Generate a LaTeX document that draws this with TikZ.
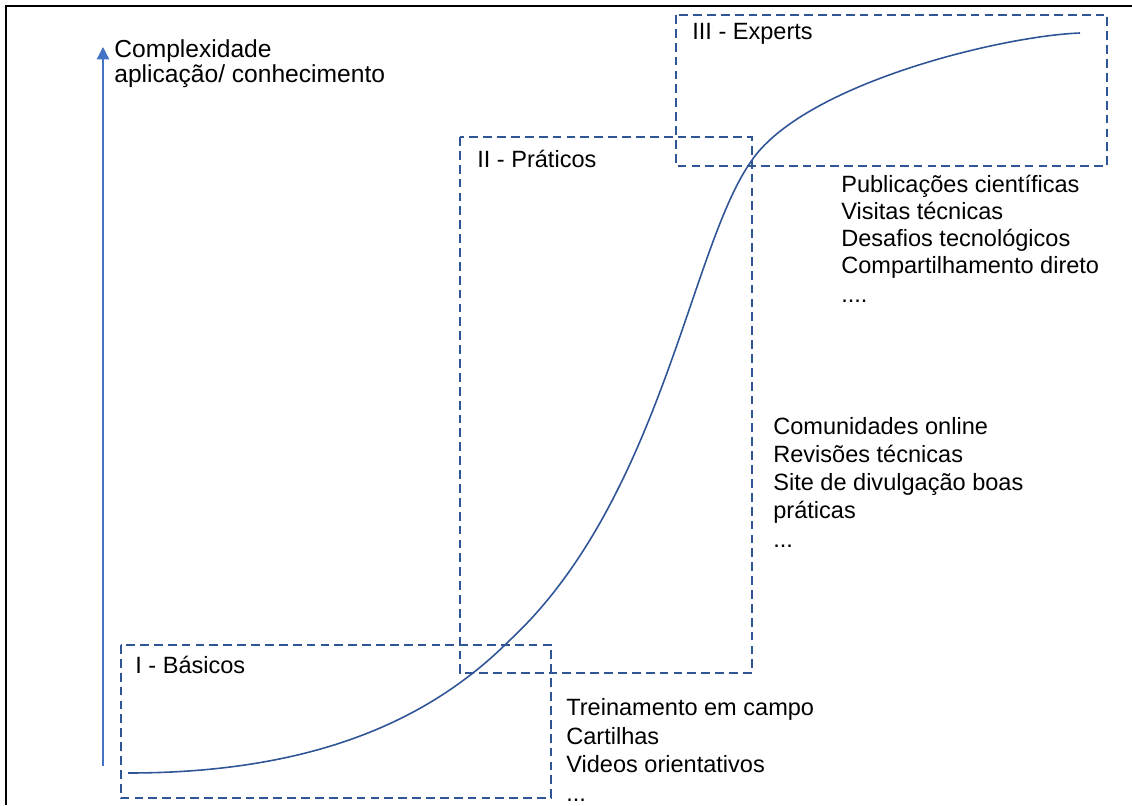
\documentclass[tikz,border=0pt]{standalone}
\usepackage{fontspec}
\setmainfont{Liberation Sans}
\usetikzlibrary{arrows.meta}
\definecolor{zoneblue}{HTML}{2F5597}
\definecolor{axisblue}{HTML}{4472C4}
\begin{document}
\begin{tikzpicture}[x=0.02cm,y=-0.02cm,
  zone/.style={draw=zoneblue,line width=0.75pt,dash pattern=on 5pt off 2.9pt},
  curveline/.style={draw=zoneblue,line width=0.9pt},
  axisline/.style={draw=axisblue,line width=0.75pt,-{Triangle[width=7pt,length=7pt]}},
  frameline/.style={draw=black,line width=1.2pt},
  lbl/.style={anchor=base west,inner sep=0pt,font=\fontsize{13.4pt}{15.6pt}\selectfont},
  hdr/.style={anchor=base west,inner sep=0pt,font=\fontsize{14pt}{15pt}\selectfont}]
\useasboundingbox (0,0) rectangle (1132,805);
% frame
\coordinate (frTR) at (1132,6);
\coordinate (frTL) at (6,6);
\coordinate (frBL) at (6,805);
\draw[frameline] (frTR) -- (frTL) -- (frBL);
% axis
\coordinate (axbot) at (103,766);
\coordinate (axtop) at (103,47);
\draw[axisline] (axbot) -- (axtop);
\node[hdr] (h1) at (114,57) {Complexidade};
\node[hdr] (h2) at (114,82) {aplicação/ conhecimento};
% zones
\coordinate (b1a) at (121,645); \coordinate (b1b) at (551,798);
\coordinate (b2a) at (460,137); \coordinate (b2b) at (752,673);
\coordinate (b3a) at (676,15);  \coordinate (b3b) at (1107,166);
\draw[zone] (b1a) rectangle (b1b);
\draw[zone] (b2a) rectangle (b2b);
\draw[zone] (b3a) rectangle (b3b);
\node[lbl] (z1) at (135,673) {I - Básicos};
\node[lbl] (z2) at (477,167) {II - Práticos};
\node[lbl] (z3) at (692,39) {III - Experts};
% curve
\coordinate (c0) at (128,773);
\coordinate (c1) at (510,640);
\coordinate (c2) at (750,163);
\coordinate (c3) at (1080,33);
\draw[curveline] (c0) .. controls (330,773) and (440,710) .. (c1)
  .. controls (660,500) and (690,250) .. (c2)
  .. controls (800,85) and (1000,36) .. (c3);
% list I
\node[lbl] (l1a) at (566,715) {Treinamento em campo};
\node[lbl] (l1b) at (566,744) {Cartilhas};
\node[lbl] (l1c) at (566,772) {Videos orientativos};
\node[lbl] (l1d) at (566,801) {...};
% list II
\node[lbl] (l2a) at (773,434) {Comunidades online};
\node[lbl] (l2b) at (773,462) {Revisões técnicas};
\node[lbl] (l2c) at (773,490) {Site de divulgação boas};
\node[lbl] (l2d) at (773,518) {práticas};
\node[lbl] (l2e) at (773,547) {...};
% list III
\node[lbl] (l3a) at (841,192) {Publicações científicas};
\node[lbl] (l3b) at (841,219) {Visitas técnicas};
\node[lbl] (l3c) at (841,246) {Desafios tecnológicos};
\node[lbl] (l3d) at (841,273) {Compartilhamento direto};
\node[lbl] (l3e) at (841,302) {....};
\end{tikzpicture}
\end{document}
